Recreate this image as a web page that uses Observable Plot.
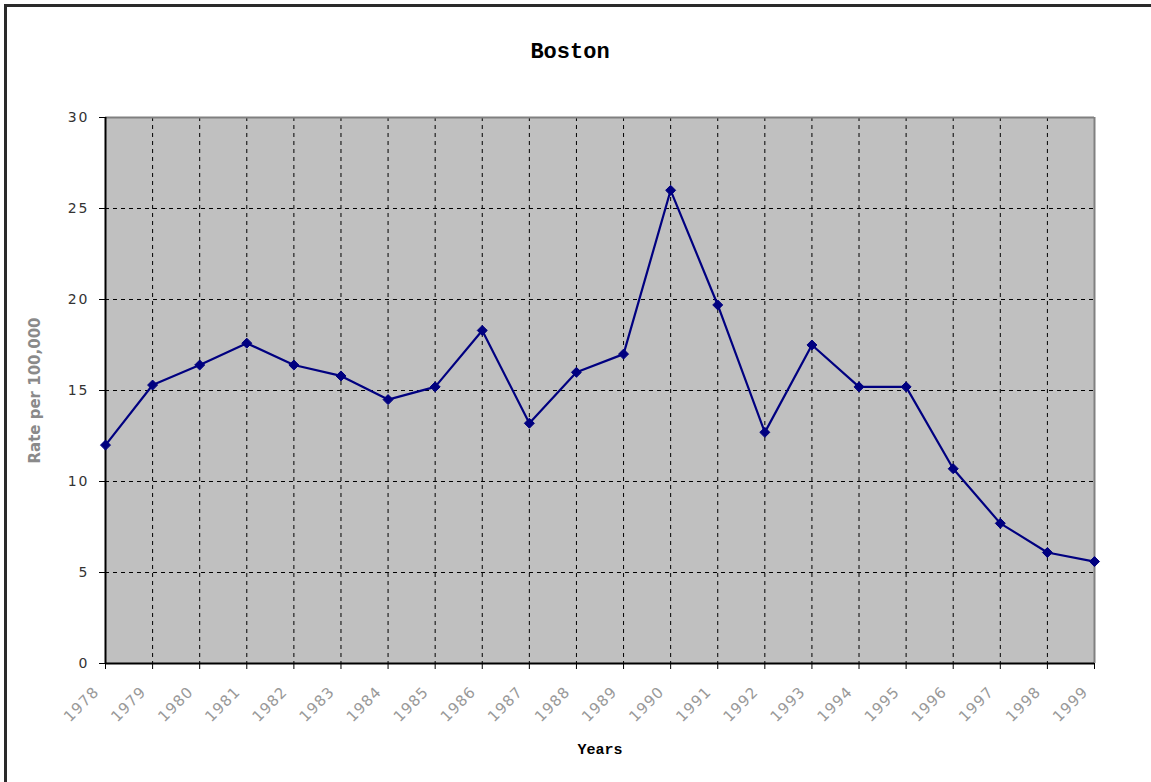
<!DOCTYPE html>
<html>
<head>
<meta charset="utf-8">
<script src="https://cdn.jsdelivr.net/npm/d3@7"></script>
<script src="https://cdn.jsdelivr.net/npm/@observablehq/plot@0.6"></script>
<style>
  html, body { margin: 0; padding: 0; background: #fff; }
  #wrap { position: relative; width: 1151px; height: 782px; overflow: hidden; }
  #border { position: absolute; left: 4px; top: 4px; width: 1200px; height: 900px;
            border-left: 3px solid #2a2a2a; border-top: 3px solid #2a2a2a; }
  #chart { position: absolute; left: 0; top: 0; }
</style>
</head>
<body>
<div id="wrap"><div id="border"></div><div id="chart"></div></div>
<script>
const years = [1978,1979,1980,1981,1982,1983,1984,1985,1986,1987,1988,1989,1990,1991,1992,1993,1994,1995,1996,1997,1998,1999];
const rates = [12.0,15.3,16.4,17.6,16.4,15.8,14.5,15.2,18.3,13.2,16.0,17.0,26.0,19.7,12.7,17.5,15.2,15.2,10.7,7.7,6.1,5.6];
const yTicks = [0,5,10,15,20,25,30];
const title = "Boston";
const xLabel = "Years";
const yLabel = "Rate per 100,000";

const data = years.map((y, i) => ({year: y, rate: rates[i]}));

const chart = Plot.plot({
  width: 1151,
  height: 782,
  marginLeft: 105,
  marginRight: 57,
  marginTop: 117,
  marginBottom: 119,
  style: {background: "transparent", overflow: "visible"},
  x: {domain: [1978, 1999]},
  y: {domain: [0, 30]},
  marks: [
    Plot.frame({fill: "#c0c0c0", stroke: "none"}),
    Plot.gridX(years.slice(1, -1), {stroke: "#000", strokeOpacity: 1, strokeDasharray: "4,4", strokeWidth: 1}),
    Plot.gridY(yTicks.slice(1, -1), {stroke: "#000", strokeOpacity: 1, strokeDasharray: "4,4", strokeWidth: 1}),
    Plot.ruleY([30], {stroke: "#808080", strokeWidth: 2}),
    Plot.ruleX([1999], {stroke: "#808080", strokeWidth: 2}),
    Plot.ruleY([0], {stroke: "#000", strokeWidth: 2}),
    Plot.ruleX([1978], {stroke: "#000", strokeWidth: 2}),
    Plot.axisY(yTicks, {tickSize: 6, tickPadding: 10, fontSize: 14, fill: "#333", stroke: "#000", label: null,
      fontFamily: "DejaVu Sans"}),
    Plot.axisX(years, {tickSize: 6, text: null, stroke: "#000", label: null}),
    Plot.axisX(years, {tickFormat: d => String(d), tickSize: 0, tickPadding: 26, dx: -9, tickRotate: -45, fontSize: 15,
      fill: "#999", label: null, fontFamily: "DejaVu Sans"}),
    Plot.line(data, {x: "year", y: "rate", stroke: "#000080", strokeWidth: 2.2}),
    Plot.dot(data, {x: "year", y: "rate", symbol: "diamond2", r: 4.5, fill: "#000080", stroke: "#000080", strokeWidth: 1}),
    Plot.text([title], {frameAnchor: "top", dy: -67, dx: -30, fontSize: 22, fontWeight: "bold",
      fontFamily: "Liberation Mono", fill: "#000", lineAnchor: "middle"}),
    Plot.text([xLabel], {frameAnchor: "bottom", dy: 86, dx: 0, fontSize: 15, fontWeight: "bold",
      fontFamily: "Liberation Mono", fill: "#000", lineAnchor: "middle"}),
    Plot.text([yLabel], {frameAnchor: "left", dx: -70, rotate: -90, textAnchor: "middle", fontSize: 15, fontWeight: "bold",
      fontFamily: "DejaVu Sans", fill: "#8a8a8a"})
  ]
});
d3.select(chart).selectAll("g[aria-label='y-axis tick label'] text").style("letter-spacing", "2px");
d3.select(chart).selectAll("g[aria-label='x-axis tick label'] text").style("letter-spacing", "1px");
document.getElementById("chart").appendChild(chart);
</script>
</body>
</html>
